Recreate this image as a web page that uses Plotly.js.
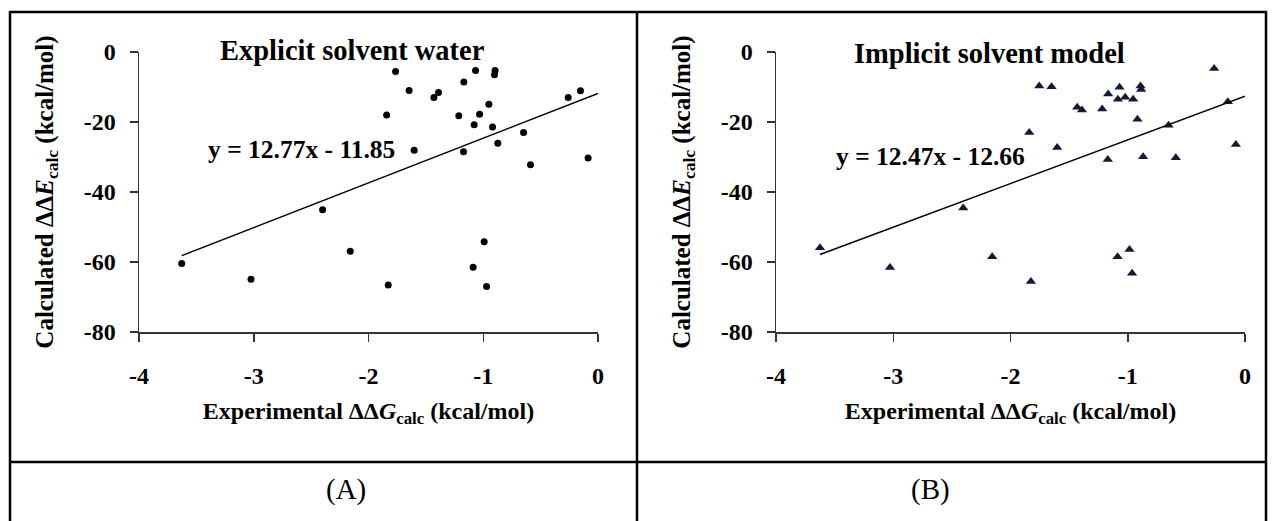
<!DOCTYPE html>
<html>
<head>
<meta charset="utf-8">
<script src="https://cdn.plot.ly/plotly-3.0.1.min.js"></script>
<style>
  html, body { margin: 0; padding: 0; background: #fff; }
  #chart { width: 1276px; height: 521px; }
</style>
</head>
<body>
<div id="chart"></div>
<script>
// ---- Data ----
const explicitX = [-1.764, -1.646, -1.842, -1.430, -1.390, -1.169, -1.067, -0.897, -0.902, -0.951,
                   -1.213, -1.032, -1.079, -0.919, -0.649, -0.873, -1.172, -1.602, -0.260, -0.153,
                   -0.588, -0.086, -3.628, -3.024, -2.400, -2.159, -1.828, -0.992, -1.088, -0.971];
const explicitY = [-5.6, -11.0, -18.0, -13.0, -11.6, -8.6, -5.3, -5.3, -6.5, -14.9,
                   -18.2, -17.8, -20.8, -21.4, -23.0, -26.1, -28.5, -28.1, -13.0, -11.1,
                   -32.2, -30.3, -60.4, -64.9, -45.1, -56.9, -66.6, -54.2, -61.5, -67.0];

const implicitX = [-0.263, -1.755, -1.650, -1.840, -1.431, -1.391, -1.218, -1.167, -1.070, -1.084,
                   -1.022, -0.954, -0.891, -0.886, -0.917, -0.652, -0.147, -0.078, -1.602, -1.170,
                   -0.869, -0.590, -3.625, -3.028, -2.403, -2.156, -1.826, -1.087, -0.985, -0.963];
const implicitY = [-4.7, -9.7, -9.9, -23.0, -15.8, -16.6, -16.3, -12.0, -10.1, -13.5,
                   -12.9, -13.5, -9.7, -10.7, -19.2, -20.9, -14.2, -26.4, -27.3, -30.7,
                   -29.9, -30.2, -55.9, -61.6, -44.6, -58.5, -65.6, -58.5, -56.4, -63.2];

const fitSlope = [12.77, 12.47];
const fitIntercept = [-11.85, -12.66];
const panelTitles = ["Explicit solvent water", "Implicit solvent model"];
const equationLabels = ["y = 12.77x - 11.85", "y = 12.47x - 12.66"];
const panelLabels = ["(A)", "(B)"];
const xTickVals = [-4, -3, -2, -1, 0];
const xTickText = ["-4", "-3", "-2", "-1", "0"];
const yTickVals = [-80, -60, -40, -20, 0];
const yTickText = ["-80", "-60", "-40", "-20", "0"];
const xRange = [-4, 0];
const yRange = [-80, 0];

// ---- Figure ----
const W = 1276, H = 521;
const serif = "Liberation Serif";
const px = v => v / W;
const py = v => 1 - v / H;
const bold = s => '<b>' + s + '</b>';

function fitLine(xs, k) {
  const x0 = Math.min(...xs);
  const x1 = xRange[1];
  return { x: [x0, x1], y: [fitSlope[k] * x0 + fitIntercept[k], fitSlope[k] * x1 + fitIntercept[k]] };
}

const l1 = fitLine(explicitX, 0);
const l2 = fitLine(implicitX, 1);

const traces = [
  { x: explicitX, y: explicitY, type: 'scatter', mode: 'markers', xaxis: 'x', yaxis: 'y',
    marker: { symbol: 'circle', size: 7, color: '#000' }, cliponaxis: false, hoverinfo: 'x+y' },
  { x: l1.x, y: l1.y, type: 'scatter', mode: 'lines', xaxis: 'x', yaxis: 'y',
    line: { color: '#000', width: 1.5 }, hoverinfo: 'skip' },
  { x: implicitX, y: implicitY, type: 'scatter', mode: 'markers', xaxis: 'x2', yaxis: 'y2',
    marker: { symbol: 'triangle-up', size: 9, color: '#141a33' }, cliponaxis: false, hoverinfo: 'x+y' },
  { x: l2.x, y: l2.y, type: 'scatter', mode: 'lines', xaxis: 'x2', yaxis: 'y2',
    line: { color: '#000', width: 1.5 }, hoverinfo: 'skip' }
];

function xAxis(domain, anchor) {
  return {
    domain: domain, anchor: anchor, range: xRange,
    tickmode: 'array', tickvals: xTickVals, ticktext: xTickText,
    ticks: 'outside', ticklen: 8, tickwidth: 1.5, tickcolor: '#333', ticklabelstandoff: 14,
    showline: true, linecolor: '#333', linewidth: 1.5, showgrid: false, zeroline: false,
    tickfont: { family: serif, size: 24, color: '#000', weight: 700 }, fixedrange: true,
    title: { text: bold('Experimental ΔΔ<i>G</i><sub>calc</sub> (kcal/mol)'),
             font: { family: serif, size: 24, color: '#000' }, standoff: 14 }
  };
}
function yAxis(domain, anchor) {
  return {
    domain: domain, anchor: anchor, range: yRange,
    tickmode: 'array', tickvals: yTickVals, ticktext: yTickText,
    ticks: 'outside', ticklen: 8, tickwidth: 1.5, tickcolor: '#333', ticklabelstandoff: 9,
    showline: true, linecolor: '#333', linewidth: 1.5, showgrid: false, zeroline: false,
    tickfont: { family: serif, size: 24, color: '#000', weight: 700 }, fixedrange: true,
    title: { text: bold('Calculated ΔΔ<i>E</i><sub>calc</sub> (kcal/mol)'),
             font: { family: serif, size: 25, color: '#000' }, standoff: 23 }
  };
}

const yDom = [py(332), py(52)];

const annotations = [
  { xref: 'x', yref: 'paper', x: -2.14, y: py(50), yanchor: 'middle', text: bold(panelTitles[0]), showarrow: false,
    font: { family: serif, size: 28.5, color: '#000' } },
  { xref: 'x', yref: 'y', x: -2.58, y: -27.8, yanchor: 'middle', text: bold(equationLabels[0]), showarrow: false,
    font: { family: serif, size: 25.5, color: '#000' } },
  { xref: 'x2', yref: 'paper', x: -2.18, y: py(53), yanchor: 'middle', text: bold(panelTitles[1]), showarrow: false,
    font: { family: serif, size: 28.5, color: '#000' } },
  { xref: 'x2', yref: 'y2', x: -2.68, y: -29.9, yanchor: 'middle', text: bold(equationLabels[1]), showarrow: false,
    font: { family: serif, size: 25.5, color: '#000' } },
  { xref: 'paper', yref: 'paper', x: px(323.5), y: py(489), yanchor: 'middle', text: panelLabels[0], showarrow: false,
    font: { family: serif, size: 29, color: '#000' } },
  { xref: 'paper', yref: 'paper', x: px(951.5), y: py(489), yanchor: 'middle', text: panelLabels[1], showarrow: false,
    font: { family: serif, size: 29, color: '#000' } }
];

const border = { color: '#000', width: 2.5 };
const shapes = [
  { type: 'rect', xref: 'paper', yref: 'paper', x0: px(10), x1: px(1266), y0: py(530), y1: py(12), line: border },
  { type: 'line', xref: 'paper', yref: 'paper', x0: px(637), x1: px(637), y0: py(530), y1: py(12), line: border },
  { type: 'line', xref: 'paper', yref: 'paper', x0: px(10), x1: px(1266), y0: py(462), y1: py(462), line: border }
];

const layout = {
  width: W, height: H,
  margin: { l: 0, r: 0, t: 0, b: 0, pad: 0 },
  paper_bgcolor: '#fff', plot_bgcolor: 'rgba(0,0,0,0)',
  showlegend: false,
  font: { family: serif, color: '#000', size: 24 },
  xaxis: xAxis([px(139), px(598)], 'y'),
  yaxis: yAxis(yDom, 'x'),
  xaxis2: xAxis([px(776), px(1245)], 'y2'),
  yaxis2: yAxis(yDom, 'x2'),
  annotations: annotations,
  shapes: shapes
};

Plotly.newPlot('chart', traces, layout, { displayModeBar: false, staticPlot: true });
</script>
</body>
</html>
